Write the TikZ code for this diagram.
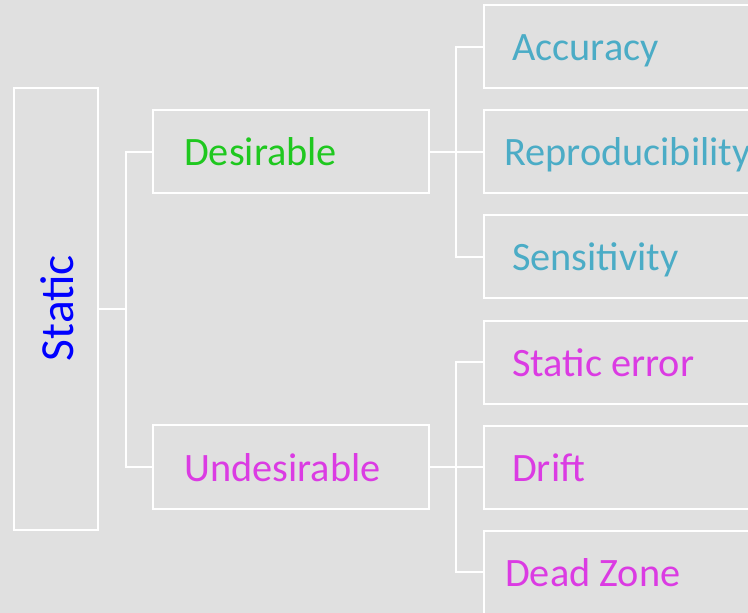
\documentclass[tikz,border=0pt]{standalone}
\usepackage{fontspec}
\setmainfont{Carlito}
\definecolor{bg}{HTML}{E0E0E0}
\definecolor{good}{HTML}{1FC81F}
\definecolor{bad}{HTML}{DB3BE3}
\definecolor{prop}{HTML}{4BACC6}
\definecolor{root}{HTML}{0000FF}
\tikzset{
  box/.style={draw=white, line width=2pt, rectangle, inner sep=0pt},
  wire/.style={draw=white, line width=2pt},
  lbl/.style={inner sep=0pt, anchor=base west, font=\fontsize{40.3}{48}\selectfont},
}
\begin{document}
\begin{tikzpicture}[x=1pt, y=-1pt]
  \fill[bg] (0,0) rectangle (748,613);
  \useasboundingbox (0,0) rectangle (748,613);
  \clip (0,0) rectangle (748,613);

  % root
  \node[box, minimum width=84pt, minimum height=442pt] (static) at (56,309) {};
  \node[inner sep=0pt, rotate=90, anchor=base, text=root,
        font=\fontsize{47.5}{56}\selectfont] at (73,308) {Static};

  % second level
  \node[box, minimum width=276pt, minimum height=83pt] (des) at (291,151.5) {};
  \node[box, minimum width=276pt, minimum height=84pt] (undes) at (291,467) {};
  \node[lbl, text=good] at ([xshift=32pt, yshift=-14pt]des.west) {Desirable};
  \node[lbl, text=bad] at ([xshift=32pt, yshift=-14pt]undes.west) {Undesirable};

  % leaves
  \foreach \n/\y in {acc/46.5, rep/151.5, sen/256.5, ser/362, dri/467, dz/572}
    \node[box, minimum width=280pt, minimum height=83pt] (\n) at (624,\y) {};
  \node[lbl, text=prop] at ([xshift=29pt, yshift=-14pt]acc.west) {Accuracy};
  \node[lbl, text=prop] at ([xshift=21pt, yshift=-14pt]rep.west) {Reproducibility};
  \node[lbl, text=prop] at ([xshift=29pt, yshift=-14pt]sen.west) {Sensitivity};
  \node[lbl, text=bad] at ([xshift=29pt, yshift=-14pt]ser.west) {Static error};
  \node[lbl, text=bad] at ([xshift=29pt, yshift=-14pt]dri.west) {Drift};
  \node[lbl, text=bad] at ([xshift=22pt, yshift=-14pt]dz.west) {Dead Zone};

  % junction points of the bracket connectors
  \coordinate (j0) at (126,309);
  \coordinate (j1) at (456,151.5);
  \coordinate (j2) at (456,467);

  \draw[wire] (static.east) -- (j0);
  \draw[wire] (des.west) -| (j0);
  \draw[wire] (undes.west) -| (j0);

  \draw[wire] (des.east) -- (rep.west);
  \draw[wire] (acc.west) -| (j1);
  \draw[wire] (sen.west) -| (j1);

  \draw[wire] (undes.east) -- (dri.west);
  \draw[wire] (ser.west) -| (j2);
  \draw[wire] (dz.west) -| (j2);
\end{tikzpicture}
\end{document}
